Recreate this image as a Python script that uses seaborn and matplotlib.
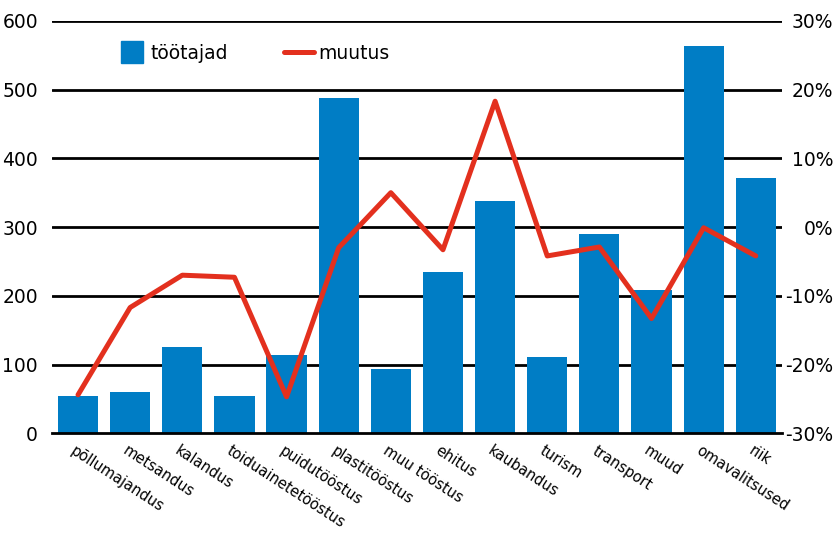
import matplotlib
matplotlib.use("Agg")
import matplotlib.pyplot as plt
import matplotlib.transforms as mtransforms
from matplotlib.lines import Line2D
import seaborn as sns
import numpy as np

categories = ["põllumajandus", "metsandus", "kalandus", "toiduainetetööstus",
              "puidutööstus", "plastitööstus", "muu tööstus", "ehitus",
              "kaubandus", "turism", "transport", "muud", "omavalitsused", "riik"]
workers = [54, 60, 126, 55, 114, 488, 94, 235, 338, 111, 290, 209, 563, 371]
change = [-24.4, -11.7, -7.0, -7.3, -24.7, -3.0, 5.0, -3.3, 18.3, -4.2, -2.9, -13.3, -0.1, -4.2]
left_ticks = [0, 100, 200, 300, 400, 500, 600]
right_ticks = [-30, -20, -10, 0, 10, 20, 30]

blue = "#007DC5"
red = "#E3301E"

sns.set_style("white")
plt.rcParams["font.family"] = ["DejaVu Sans"]
plt.rcParams["text.color"] = "black"
plt.rcParams["xtick.color"] = "black"
plt.rcParams["ytick.color"] = "black"

fig = plt.figure(figsize=(8.38, 5.33), dpi=100)
ax = fig.add_axes([0.062, 0.187, 0.871, 0.774])

sns.barplot(x=categories, y=workers, color=blue, width=0.77, saturation=1,
            linewidth=0, ax=ax, zorder=2)
ax.set_xlim(-0.5, len(categories) - 0.5)
ax.set_ylim(0, 600)
ax.set_yticks(left_ticks)
ax.set_yticklabels([str(t) for t in left_ticks], fontsize=13.5)
ax.tick_params(axis="y", length=0, pad=10)
for t in left_ticks[1:]:
    ax.axhline(t, color="black", lw=2, zorder=1)
for s in ["top", "right", "left"]:
    ax.spines[s].set_visible(False)
ax.spines["bottom"].set_linewidth(2)
ax.spines["bottom"].set_color("black")
ax.set_xlabel("")
ax.set_ylabel("")

# ticks at category boundaries, labels at centers
ax.set_xticks(np.arange(len(categories) + 1) - 0.5, minor=True)
ax.tick_params(axis="x", which="minor", length=8, width=2, color="black", direction="out")
ax.tick_params(axis="x", which="major", length=0, pad=7)
ax.set_xticks(np.arange(len(categories)))
ax.set_xticklabels(categories, rotation=-33, ha="left", va="top",
                   rotation_mode="anchor", fontsize=10.5)
offset = mtransforms.ScaledTranslation(-2 / 100, 0, fig.dpi_scale_trans)
for lab in ax.get_xticklabels():
    lab.set_transform(lab.get_transform() + offset)

ax2 = ax.twinx()
sns.lineplot(x=np.arange(len(categories)), y=change, color=red, lw=3.6,
             ax=ax2, zorder=3)
ax2.set_ylim(-30, 30)
ax2.set_yticks(right_ticks)
ax2.set_yticklabels([f"{t}%" for t in right_ticks], fontsize=13.5, ha="right")
ax2.tick_params(axis="y", length=0, pad=37)
for s in ["top", "right", "left", "bottom"]:
    ax2.spines[s].set_visible(False)
ax2.set_ylabel("")

handles = [Line2D([], [], marker="s", markersize=15.8, linestyle="none", color=blue),
           Line2D([], [], color=red, lw=3.6)]
fig.legend(handles, ["töötajad", "muutus"], loc="center left",
           bbox_to_anchor=(0.128, 0.9), ncol=2, frameon=False, fontsize=13.5,
           handlelength=1.6, handletextpad=0.2, columnspacing=3.0, borderpad=0)

fig.savefig("out.png", dpi=100)
